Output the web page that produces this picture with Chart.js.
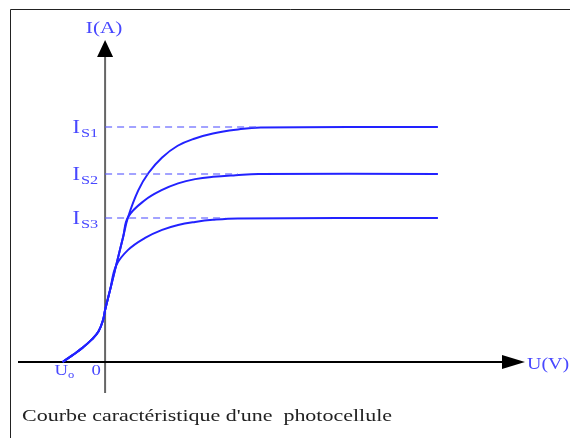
<!DOCTYPE html>
<html>
<head>
<meta charset="utf-8">
<script src="https://cdn.jsdelivr.net/npm/chart.js@4.4.0/dist/chart.umd.min.js"></script>
<style>
  html, body { margin: 0; padding: 0; background: #fff; }
  #wrap { position: relative; width: 570px; height: 438px; }
</style>
</head>
<body>
<div id="wrap"><canvas id="photoChart"></canvas></div>
<script>
// courbe I = f(U) pour trois éclairements (U en V, I en unités arbitraires)
const uLow = [-2.05, -1.55, -1.08, -0.65, -0.32, -0.1, 0, 0.25, 0.53];
const iLow = [0, 0.30, 0.61, 0.95, 1.30, 1.78, 2.21, 3.10, 4.10];

const u1 = [...uLow, 0.87, 1.11, 1.6, 2.1, 2.75, 3.5, 4.3, 5.2, 6.3, 7.5, 16.05];
const i1 = [...iLow, 5.32, 6.17, 7.3, 8.05, 8.7, 9.2, 9.5, 9.72, 9.88, 9.98, 10.0];
const u2 = [...uLow, 0.87, 1.11, 1.93, 2.75, 3.52, 4.34, 5.2, 6.3, 7.4, 16.05];
const i2 = [...iLow, 5.32, 6.17, 6.89, 7.32, 7.6, 7.78, 7.88, 7.95, 8.0, 8.0];
const u3 = [...uLow, 1.11, 1.93, 2.75, 3.52, 4.34, 5.2, 6.4, 16.05];
const i3 = [...iLow, 4.77, 5.28, 5.62, 5.83, 5.96, 6.05, 6.11, 6.13];

const satLabels = ["S1", "S2", "S3"];
const satLevels = [10, 8, 6.13];
const dashEnds = [7.5, 6.4, 5.8];
const u0 = -2.05;

const blue = "#2222ff";
const textBlue = "#4848ff";
const stretch = 1.25;

function toPoints(us, is) {
  return us.map((u, k) => ({ x: u, y: is[k] }));
}

const curveSets = [[u1, i1], [u2, i2], [u3, i3]].map(([us, is]) => ({
  data: toPoints(us, is),
  showLine: true,
  borderColor: blue,
  borderWidth: 2,
  pointRadius: 0,
  tension: 0.4
}));

const dashSets = satLevels.map((lvl, k) => ({
  data: [{ x: 0, y: lvl }, { x: dashEnds[k], y: lvl }],
  showLine: true,
  borderColor: "rgba(90,90,255,0.75)",
  borderWidth: 1.5,
  borderDash: [7, 5],
  pointRadius: 0
}));

// texte un peu élargi horizontalement comme sur l'original
function wideText(ctx, txt, px, py, font, align) {
  ctx.save();
  ctx.font = font;
  const w = ctx.measureText(txt).width * stretch;
  let left = px;
  if (align === "center") left = px - w / 2;
  if (align === "right") left = px - w;
  ctx.translate(left, py);
  ctx.scale(stretch, 1);
  ctx.textAlign = "left";
  ctx.fillText(txt, 0, 0);
  ctx.restore();
  return w;
}

const axesPlugin = {
  id: "axesPlugin",
  beforeDatasetsDraw(chart) {
    const { ctx, chartArea, scales: { x, y } } = chart;
    const x0 = x.getPixelForValue(0);
    const y0 = y.getPixelForValue(0);
    ctx.save();
    // cadre
    ctx.strokeStyle = "#222";
    ctx.lineWidth = 1;
    ctx.beginPath();
    ctx.moveTo(10.5, 438);
    ctx.lineTo(10.5, 9.5);
    ctx.lineTo(570, 9.5);
    ctx.stroke();

    // axe vertical
    ctx.strokeStyle = "#666";
    ctx.lineWidth = 2;
    ctx.beginPath();
    ctx.moveTo(x0, chartArea.bottom);
    ctx.lineTo(x0, chartArea.top + 16);
    ctx.stroke();
    ctx.fillStyle = "#000";
    ctx.beginPath();
    ctx.moveTo(x0, chartArea.top);
    ctx.lineTo(x0 - 8, chartArea.top + 17);
    ctx.lineTo(x0 + 8, chartArea.top + 17);
    ctx.closePath();
    ctx.fill();

    // axe horizontal
    ctx.strokeStyle = "#000";
    ctx.beginPath();
    ctx.moveTo(chartArea.left, y0);
    ctx.lineTo(chartArea.right - 20, y0);
    ctx.stroke();
    ctx.beginPath();
    ctx.moveTo(chartArea.right, y0);
    ctx.lineTo(chartArea.right - 23, y0 - 7);
    ctx.lineTo(chartArea.right - 23, y0 + 7);
    ctx.closePath();
    ctx.fill();
    ctx.restore();
  },
  afterDraw(chart) {
    const { ctx, chartArea, scales: { x, y } } = chart;
    const x0 = x.getPixelForValue(0);
    const y0 = y.getPixelForValue(0);
    ctx.save();
    ctx.fillStyle = textBlue;
    ctx.textBaseline = "alphabetic";

    wideText(ctx, "I(A)", x0 - 1, 33, '17px "Liberation Serif"', "center");
    wideText(ctx, "U(V)", chartArea.right + 2, y0 + 7, '16px "Liberation Serif"', "left");

    // I_S1, I_S2, I_S3
    satLevels.forEach((lvl, k) => {
      const py = y.getPixelForValue(lvl);
      const sw = wideText(ctx, satLabels[k], x0 - 7, py + 10, '13px "Liberation Serif"', "right");
      wideText(ctx, "I", x0 - 8 - sw, py + 6, '18px "Liberation Serif"', "right");
    });

    // U0 et 0
    const pu0 = x.getPixelForValue(u0);
    const uw = wideText(ctx, "U", pu0 - 8, y0 + 13, '15px "Liberation Serif"', "left");
    wideText(ctx, "o", pu0 - 8 + uw, y0 + 16, '10px "Liberation Serif"', "left");
    wideText(ctx, "0", x0 - 9, y0 + 13, '15px "Liberation Serif"', "center");

    // légende
    ctx.fillStyle = "#222";
    ctx.font = '17px "Liberation Serif"';
    const caption = "Courbe caractéristique d'une  photocellule";
    const cw = ctx.measureText(caption).width;
    ctx.translate(22, 421);
    ctx.scale(370 / cw, 1);
    ctx.textAlign = "left";
    ctx.fillText(caption, 0, 0);
    ctx.restore();
  }
};

new Chart(document.getElementById("photoChart").getContext("2d"), {
  type: "scatter",
  data: { datasets: [...dashSets, ...curveSets] },
  options: {
    responsive: true,
    maintainAspectRatio: false,
    animation: false,
    layout: { padding: { left: 18, right: 45, top: 40, bottom: 45 } },
    scales: {
      x: { type: "linear", min: -4.2, max: 20.25, display: false },
      y: { type: "linear", min: -1.32, max: 13.7, display: false }
    },
    plugins: {
      legend: { display: false },
      tooltip: { enabled: false }
    }
  },
  plugins: [axesPlugin]
});
</script>
</body>
</html>
